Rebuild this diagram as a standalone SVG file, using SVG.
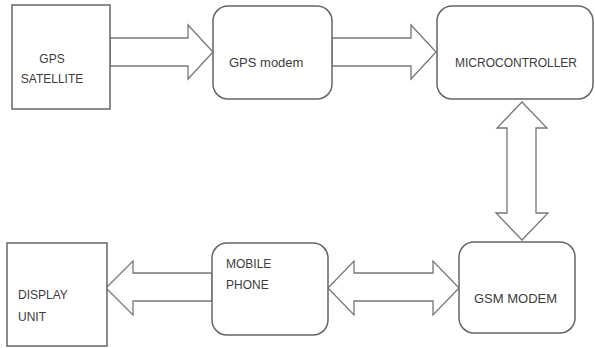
<svg xmlns="http://www.w3.org/2000/svg" width="595" height="348" viewBox="0 0 595 348">
<style>
.box{fill:#fff;stroke:#666;stroke-width:1.5}
.arr{fill:#fff;stroke:#777;stroke-width:1.3;stroke-linejoin:miter}
text{font-family:"Liberation Sans",Arial,sans-serif;font-size:12px;fill:#3c3c3c}
.big{font-size:13px}
</style>
<rect width="595" height="348" fill="#fff"/>
<g id="connectors">
<polygon class="arr" points="110,38 188,38 188,25 213,52 188,79 188,66 110,66"/>
<polygon class="arr" points="332,38 411,38 411,25 436,52 411,79 411,66 332,66"/>
<polygon class="arr" points="522,102 547,128 536,128 536,213 548,213 522,240 496,213 507,213 507,128 497,128"/>
<polygon class="arr" points="328,288 354,261 354,273 433,273 433,261 459,288 433,315 433,301 354,301 354,315"/>
<polygon class="arr" points="212,273 133,273 133,261 106,288 133,315 133,301 212,301"/>
</g>
<g id="gps-satellite">
<rect class="box" x="12" y="5" width="98" height="104"/>
<text x="52" y="63" text-anchor="middle">GPS</text>
<text x="52" y="83" text-anchor="middle">SATELLITE</text>
</g>
<g id="gps-modem">
<rect class="box" x="213" y="6" width="119" height="93" rx="15"/>
<text class="big" x="229" y="67">GPS modem</text>
</g>
<g id="microcontroller">
<rect class="box" x="437" y="6" width="156" height="93" rx="15"/>
<text x="455" y="67" textLength="122">MICROCONTROLLER</text>
</g>
<g id="gsm-modem">
<rect class="box" x="459" y="242" width="116" height="91" rx="15"/>
<text class="big" x="474" y="303">GSM MODEM</text>
</g>
<g id="mobile-phone">
<rect class="box" x="212" y="243" width="116" height="92" rx="15"/>
<text x="226" y="268">MOBILE</text>
<text x="226" y="289">PHONE</text>
</g>
<g id="display-unit">
<rect class="box" x="7" y="243" width="100" height="103"/>
<text x="18" y="299">DISPLAY</text>
<text x="18" y="321">UNIT</text>
</g>
</svg>
